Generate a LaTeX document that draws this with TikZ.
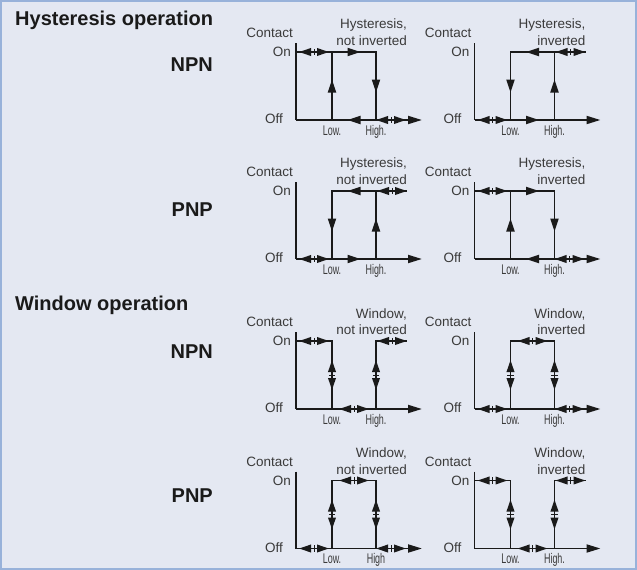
\documentclass[tikz,border=0pt]{standalone}
\usepackage{fontspec}
\usepackage{graphicx}
\setmainfont{Liberation Sans}
\usetikzlibrary{arrows.meta}
\definecolor{bgcol}{HTML}{E4E8F2}
\definecolor{framecol}{HTML}{98B2DA}
\definecolor{inkcol}{HTML}{1A1A1A}
\definecolor{txtcol}{HTML}{3A3A3A}
\newcommand{\chartframe}[6]{%
 \begin{scope}[shift={(#2,#3)}]
  \node[lbl,anchor=east] (#1c) at (-3,-87) {Contact};
  \node[lbl,anchor=east] (#1on) at (-5,-68) {On};
  \node[lbl,anchor=east] (#1off) at (-13,-1) {Off};
  \node[lbl,anchor=east] (#1ta) at (111,-95) {#4};
  \node[lbl,anchor=east] (#1tb) at (111,-79) {#5};
  \node[ticklbl,anchor=base] (#1lo) at (36,15) {\scalebox{0.64}[1]{Low.}};
  \node[ticklbl,anchor=base] (#1hi) at (80,15) {\scalebox{0.64}[1]{#6}};
  \coordinate (#1top) at (0,-77);
  \coordinate (#1o) at (0,0);
  \coordinate (#1end) at (126,0);
  \draw[ln] (#1top) -- (#1o);
  \draw[ln,-{Triangle[length=14pt,width=8pt]}] (#1o) -- (#1end);
 \end{scope}}
% hysteresis: on line from axis, up at Low, down at High
\newcommand{\typeA}[2]{%
 \begin{scope}[shift={(#1,#2)}]
  \draw[ln] (0,-68) -- (80,-68) -- (80,0);
  \draw[ln] (36,0) -- (36,-68);
  \pic at (18,-68) {dblarr};
  \pic at (58,-68) {onearr};
  \pic[rotate=-90] at (80,-34) {onearr};
  \pic[rotate=90] at (36,-34) {onearr};
  \pic[rotate=180] at (58,0) {onearr};
  \pic at (95,0) {dblarr};
 \end{scope}}
% hysteresis: down at Low, up at High, on line extends past High
\newcommand{\typeB}[2]{%
 \begin{scope}[shift={(#1,#2)}]
  \draw[ln] (36,0) -- (36,-68) -- (111,-68);
  \draw[ln] (80,0) -- (80,-68);
  \pic at (18,0) {dblarr};
  \pic at (58,0) {onearr};
  \pic[rotate=-90] at (36,-34) {onearr};
  \pic[rotate=90] at (80,-34) {onearr};
  \pic[rotate=180] at (58,-68) {onearr};
  \pic at (96,-68) {dblarr};
 \end{scope}}
% window: on outside Low..High
\newcommand{\typeC}[2]{%
 \begin{scope}[shift={(#1,#2)}]
  \draw[ln] (0,-68) -- (36,-68) -- (36,0);
  \draw[ln] (80,0) -- (80,-68) -- (111,-68);
  \pic at (18,-68) {dblarr};
  \pic[rotate=90] at (36,-34) {dblarr};
  \pic at (58,0) {dblarr};
  \pic[rotate=90] at (80,-34) {dblarr};
  \pic at (96,-68) {dblarr};
 \end{scope}}
% window: on inside Low..High
\newcommand{\typeD}[2]{%
 \begin{scope}[shift={(#1,#2)}]
  \draw[ln] (36,0) -- (36,-68) -- (80,-68) -- (80,0);
  \pic at (18,0) {dblarr};
  \pic[rotate=90] at (36,-34) {dblarr};
  \pic at (58,-68) {dblarr};
  \pic[rotate=90] at (80,-34) {dblarr};
  \pic at (95,0) {dblarr};
 \end{scope}}
\begin{document}
\begin{tikzpicture}[x=1pt,y=-1pt,
  ln/.style={draw=inkcol,line width=1.9pt},
  tipsty/.style={-{Triangle[length=13pt,width=8pt]}},
  dtipsty/.style={-{Triangle[length=12pt,width=7.5pt]}},
  pics/onearr/.style={code={\draw[ln,tipsty] (-6.5,0) -- (6.5,0);}},
  pics/dblarr/.style={code={
     \draw[ln,dtipsty] (-1.3,0) -- (-15,0);
     \draw[ln,dtipsty] (1.3,0) -- (15,0);
     \draw[draw=inkcol,line width=0.9pt] (0,-3.2) -- (0,3.2);}},
  lbl/.style={inner sep=0pt,text=txtcol,font=\fontsize{13.5}{14}\selectfont},
  ticklbl/.style={inner sep=0pt,text=txtcol,font=\fontsize{14}{14}\selectfont},
  head/.style={inner sep=0pt,text=inkcol,font=\fontsize{20}{21}\selectfont\bfseries}]
\useasboundingbox (0,0) rectangle (637,570);
\fill[bgcol] (0,0) rectangle (637,570);
\draw[framecol,line width=1.6pt] (0.8,0.8) rectangle (636.2,569.2);
\node[head,anchor=west] (hyst) at (15,20) {Hysteresis operation};
\node[head,anchor=east] (npna) at (213,65) {NPN};
\node[head,anchor=east] (pnpa) at (213,210) {PNP};
\node[head,anchor=west] (wind) at (15,305) {Window operation};
\node[head,anchor=east] (npnb) at (213,352) {NPN};
\node[head,anchor=east] (pnpb) at (213,496) {PNP};
\chartframe{p1}{296}{120}{Hysteresis,}{not inverted}{High.}
\typeA{296}{120}
\chartframe{p2}{474.5}{120}{Hysteresis,}{inverted}{High.}
\typeB{474.5}{120}
\chartframe{p3}{296}{259}{Hysteresis,}{not inverted}{High.}
\typeB{296}{259}
\chartframe{p4}{474.5}{259}{Hysteresis,}{inverted}{High.}
\typeA{474.5}{259}
\chartframe{p5}{296}{409}{Window,}{not inverted}{High.}
\typeC{296}{409}
\chartframe{p6}{474.5}{409}{Window,}{inverted}{High.}
\typeD{474.5}{409}
\chartframe{p7}{296}{548.5}{Window,}{not inverted}{High}
\typeD{296}{548.5}
\chartframe{p8}{474.5}{548.5}{Window,}{inverted}{High.}
\typeC{474.5}{548.5}
\end{tikzpicture}
\end{document}
